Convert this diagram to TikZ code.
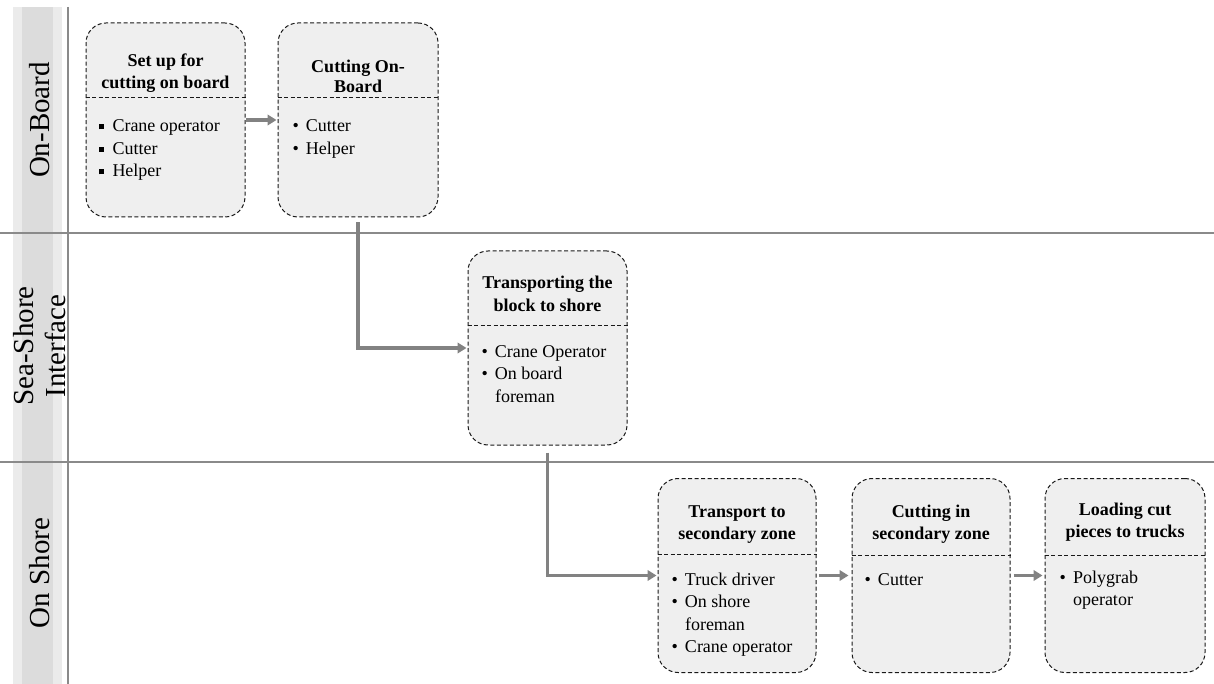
\documentclass[tikz,border=0pt]{standalone}
\usepackage{fontspec}
\setmainfont{Liberation Serif}
\usetikzlibrary{arrows.meta}
\definecolor{boxfill}{HTML}{EFEFEF}
\definecolor{lanegray}{HTML}{DCDCDC}
\definecolor{lanelight}{HTML}{EBEBEB}
\definecolor{linegray}{HTML}{8A8A8A}
\definecolor{conngray}{HTML}{828282}
\newcommand\sqb{\makebox[6.3pt][l]{\rule[2.5pt]{5pt}{5pt}}}
\begin{document}
\begin{tikzpicture}[x=1pt,y=-1pt,
  procbox/.style={draw=black!90, fill=boxfill, rounded corners=20pt, line width=1pt,
    dash pattern=on 4pt off 2.5pt, minimum width=159pt, minimum height=194pt, inner sep=0pt},
  divider/.style={draw=black!90, line width=1pt, dash pattern=on 4pt off 2.5pt},
  titletext/.style={font=\fontsize{18}{22}\selectfont\bfseries, inner sep=0pt, anchor=base},
  itemtext/.style={font=\fontsize{18}{22.5}\selectfont, inner sep=0pt, anchor=base west},
  lanelabel/.style={font=\fontsize{29}{32}\selectfont, rotate=90, align=center, inner sep=0pt},
  conn/.style={draw=conngray, line width=3.8pt, -{Triangle[length=9pt,width=10.5pt]}},
  laneline/.style={draw=linegray, line width=2pt}
]
\useasboundingbox (0,0) rectangle (1214,684);
% lane band
\fill[lanelight] (13,7) rectangle (62,684);
\fill[lanegray] (22,7) rectangle (53,684);
\draw[draw=linegray, line width=1.4pt] (68,7) -- (68,684);
\draw[laneline] (0,233) -- (1214,233);
\draw[laneline] (0,462) -- (1214,462);
% lane labels
\node[lanelabel] (l1) at (40,120) {On-Board};
\node[lanelabel] (l2) at (40,346) {Sea-Shore\\Interface};
\node[lanelabel] (l3) at (40,573) {On Shore};
% boxes
\node[procbox] (b1) at (165.5,120) {};
\node[procbox, minimum width=160pt] (b2) at (358,120) {};
\node[procbox] (b3) at (547.5,348) {};
\node[procbox, minimum width=158pt] (b4) at (737,575.5) {};
\node[procbox, minimum width=158pt] (b5) at (931,575.5) {};
\node[procbox, minimum width=160pt] (b6) at (1125,575.5) {};
% dividers
\draw[divider] (b1.west |- 0,98) -- (b1.east |- 0,98);
\draw[divider] (b2.west |- 0,98) -- (b2.east |- 0,98);
\draw[divider] (b3.west |- 0,325) -- (b3.east |- 0,325);
\draw[divider] (b4.west |- 0,554) -- (b4.east |- 0,554);
\draw[divider] (b5.west |- 0,555) -- (b5.east |- 0,555);
\draw[divider] (b6.west |- 0,555) -- (b6.east |- 0,555);
% titles
\node[titletext] (t1) at (b1.center |- 0,67) {\begin{tabular}[t]{@{}c@{}}Set up for\\cutting on board\end{tabular}};
\node[titletext] (t2) at (b2.center |- 0,73) {\begin{tabular}[t]{@{}c@{}}Cutting On-\\[-2pt]Board\end{tabular}};
\node[titletext] (t3) at (b3.center |- 0,289) {\begin{tabular}[t]{@{}c@{}}Transporting the\\block to shore\end{tabular}};
\node[titletext] (t4) at (b4.center |- 0,517) {\begin{tabular}[t]{@{}c@{}}Transport to\\secondary zone\end{tabular}};
\node[titletext] (t5) at (b5.center |- 0,517) {\begin{tabular}[t]{@{}c@{}}Cutting in\\secondary zone\end{tabular}};
\node[titletext] (t6) at (b6.center |- 0,515) {\begin{tabular}[t]{@{}c@{}}Loading cut\\pieces to trucks\end{tabular}};
% items
\node[itemtext] (i1) at ([xshift=13pt]b1.west |- 0,132) {\begin{tabular}[t]{@{}l@{\hspace{7.5pt}}l@{}}\sqb & Crane operator\\ \sqb & Cutter\\ \sqb & Helper\end{tabular}};
\node[itemtext] (i2) at ([xshift=15pt]b2.west |- 0,132) {\begin{tabular}[t]{@{}l@{\hspace{7pt}}l@{}}\textbullet & Cutter\\ \textbullet & Helper\end{tabular}};
\node[itemtext] (i3) at ([xshift=14pt]b3.west |- 0,357) {\begin{tabular}[t]{@{}l@{\hspace{7pt}}l@{}}\textbullet & Crane Operator\\ \textbullet & On board\\ & foreman\end{tabular}};
\node[itemtext] (i4) at ([xshift=14pt]b4.west |- 0,585) {\begin{tabular}[t]{@{}l@{\hspace{7pt}}l@{}}\textbullet & Truck driver\\ \textbullet & On shore\\ & foreman\\ \textbullet & Crane operator\end{tabular}};
\node[itemtext] (i5) at ([xshift=13pt]b5.west |- 0,585) {\begin{tabular}[t]{@{}l@{\hspace{7pt}}l@{}}\textbullet & Cutter\end{tabular}};
\node[itemtext] (i6) at ([xshift=15pt]b6.west |- 0,583) {\begin{tabular}[t]{@{}l@{\hspace{7pt}}l@{}}\textbullet & Polygrab\\ & operator\end{tabular}};
% connectors
\draw[conn] (b1.east) -- ([xshift=-1pt]b2.west);
\draw[conn] ([yshift=-5pt]b2.south) |- ([xshift=-1pt]b3.west);
\draw[conn] ([yshift=-7pt]b3.south) |- ([xshift=-1pt]b4.west);
\draw[conn] ([xshift=2pt]b4.east) -- ([xshift=-3pt]b5.west);
\draw[conn] ([xshift=3pt]b5.east) -- ([xshift=-2pt]b6.west);
\end{tikzpicture}
\end{document}
